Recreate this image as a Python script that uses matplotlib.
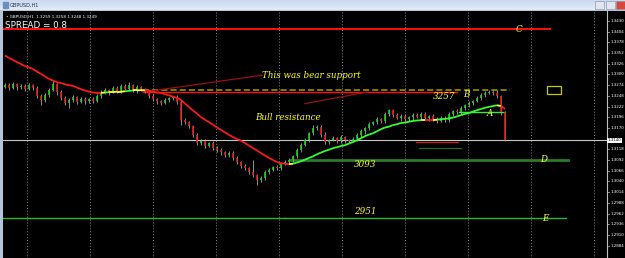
import numpy as np
import matplotlib
matplotlib.use("Agg")
import matplotlib.pyplot as plt
from matplotlib.collections import LineCollection
from matplotlib.patches import Rectangle
import matplotlib.transforms as mtransforms

# ---------------- data ----------------
open0 = 1.3270
closes = [1.3274, 1.3267, 1.3276, 1.3269, 1.3272, 1.3264, 1.3274, 1.3267, 1.3247, 1.3238,
          1.3250, 1.3262, 1.3276, 1.3257, 1.3242, 1.3230, 1.3238, 1.3245, 1.3233, 1.3240,
          1.3235, 1.3240, 1.3235, 1.3247, 1.3257, 1.3262, 1.3257, 1.3267, 1.3259, 1.3272,
          1.3264, 1.3274, 1.3262, 1.3269, 1.3264, 1.3257, 1.3247, 1.3240, 1.3235, 1.3230,
          1.3238, 1.3242, 1.3245, 1.3233, 1.3189, 1.3184, 1.3174, 1.3153, 1.3133, 1.3138,
          1.3126, 1.3133, 1.3121, 1.3116, 1.3111, 1.3104, 1.3109, 1.3097, 1.3087, 1.3077,
          1.3072, 1.3063, 1.3055, 1.3043, 1.3048, 1.3063, 1.3068, 1.3075, 1.3072, 1.3082,
          1.3087, 1.3092, 1.3102, 1.3116, 1.3128, 1.3140, 1.3157, 1.3170, 1.3172, 1.3153,
          1.3136, 1.3140, 1.3145, 1.3138, 1.3148, 1.3140, 1.3138, 1.3143, 1.3153, 1.3162,
          1.3170, 1.3179, 1.3184, 1.3191, 1.3187, 1.3204, 1.3213, 1.3201, 1.3194, 1.3199,
          1.3191, 1.3196, 1.3201, 1.3196, 1.3204, 1.3194, 1.3199, 1.3191, 1.3187, 1.3194,
          1.3189, 1.3204, 1.3211, 1.3208, 1.3218, 1.3225, 1.3230, 1.3235, 1.3242, 1.3250,
          1.3255, 1.3257, 1.3255, 1.3247, 1.3208, 1.3140]
up_wick_pips = [5, 4, 6, 3, 5, 4, 6, 3, 4, 5,
                4, 6, 10, 3, 4, 5, 4, 6, 3, 5,
                4, 3, 5, 6, 4, 5, 3, 6, 4, 5,
                4, 8, 3, 5, 4, 3, 4, 5, 3, 4,
                5, 4, 3, 6, 4, 5, 3, 4, 5, 6,
                4, 3, 5, 4, 6, 3, 4, 5, 4, 3,
                5, 4, 30, 3, 6, 4, 5, 3, 4, 6,
                4, 5, 3, 4, 6, 5, 4, 7, 5, 4,
                6, 3, 5, 4, 6, 3, 4, 5, 4, 6,
                3, 5, 4, 6, 4, 5, 3, 4, 6, 5,
                4, 3, 5, 6, 4, 5, 3, 4, 6, 5,
                4, 5, 3, 4, 6, 4, 5, 4, 6, 5,
                4, 5, 4, 6, 3, 4]
down_wick_pips = [4, 5, 3, 6, 4, 5, 3, 6, 5, 13,
                  4, 5, 3, 6, 4, 5, 12, 4, 5, 3,
                  6, 4, 5, 3, 4, 5, 6, 3, 4, 5,
                  3, 4, 5, 6, 4, 3, 5, 4, 6, 4,
                  3, 5, 4, 4, 12, 5, 4, 6, 5, 4,
                  6, 3, 5, 4, 6, 5, 4, 6, 5, 4,
                  5, 6, 4, 12, 5, 4, 6, 3, 5, 4,
                  3, 5, 4, 6, 4, 3, 5, 4, 6, 5,
                  4, 6, 3, 5, 4, 6, 5, 3, 4, 5,
                  6, 4, 3, 5, 4, 6, 5, 4, 3, 6,
                  5, 4, 6, 3, 5, 4, 6, 5, 4, 3,
                  5, 4, 6, 5, 3, 4, 5, 4, 3, 5,
                  4, 3, 5, 4, 6, 2]
ma_values = [1.3346, 1.3340, 1.3335, 1.3330, 1.3325, 1.3320, 1.3317, 1.3313, 1.3307, 1.3301,
             1.3295, 1.3289, 1.3285, 1.3281, 1.3279, 1.3276, 1.3274, 1.3272, 1.3268, 1.3264,
             1.3261, 1.3258, 1.3256, 1.3255, 1.3255, 1.3256, 1.3257, 1.3257, 1.3258, 1.3258,
             1.3259, 1.3260, 1.3261, 1.3261, 1.3262, 1.3261, 1.3260, 1.3258, 1.3256, 1.3255,
             1.3252, 1.3249, 1.3246, 1.3243, 1.3238, 1.3229, 1.3221, 1.3212, 1.3205, 1.3196,
             1.3190, 1.3184, 1.3178, 1.3171, 1.3165, 1.3159, 1.3153, 1.3148, 1.3143, 1.3139,
             1.3133, 1.3127, 1.3121, 1.3115, 1.3109, 1.3103, 1.3097, 1.3092, 1.3087, 1.3084,
             1.3083, 1.3082, 1.3083, 1.3086, 1.3089, 1.3093, 1.3097, 1.3101, 1.3106, 1.3110,
             1.3114, 1.3117, 1.3121, 1.3123, 1.3126, 1.3128, 1.3132, 1.3136, 1.3140, 1.3145,
             1.3150, 1.3154, 1.3157, 1.3162, 1.3167, 1.3171, 1.3173, 1.3177, 1.3179, 1.3182,
             1.3183, 1.3185, 1.3187, 1.3188, 1.3189, 1.3189, 1.3189, 1.3189, 1.3190, 1.3191,
             1.3192, 1.3193, 1.3195, 1.3198, 1.3201, 1.3204, 1.3206, 1.3210, 1.3213, 1.3216,
             1.3219, 1.3221, 1.3223, 1.3225, 1.3223, 1.3216]

level_C = 1.3410
level_D = 1.3093
level_E = 1.2951
level_bear = 1.3257
level_dash = 1.3263
level_A = 1.3208
current_price = 1.3140
short_red = 1.3136
short_green = 1.3121

axis_labels = ["1.3430", "1.3404", "1.3378", "1.3352", "1.3326", "1.3300", "1.3274",
               "1.3248", "1.3222", "1.3196", "1.3170", "1.3118", "1.3092", "1.3066",
               "1.3040", "1.3014", "1.2988", "1.2962", "1.2936", "1.2910", "1.2884"]

# ---------------- figure ----------------
W, H = 625, 258
fig = plt.figure(figsize=(W / 100, H / 100), dpi=100, facecolor="#b4c4d8")

# title bar
tb = fig.add_axes([0, 248 / H, 1, 10 / H])
grad = np.linspace(0, 1, 50).reshape(-1, 1)
tb.imshow(grad, aspect="auto", cmap=matplotlib.colors.LinearSegmentedColormap.from_list(
    "tb", ["#c9d9ee", "#e3ecf7"]), extent=[0, 1, 0, 1])
tb.set_xlim(0, 1); tb.set_ylim(0, 1); tb.axis("off")
tb.add_patch(Rectangle((0.004, 0.2), 0.008, 0.6, color="#6a8fc0"))
tb.text(0.016, 0.5, "GBPUSD,H1", fontsize=3.6, color="#203050", va="center")
for x0, c in [(0.952, "#dfe6f0"), (0.969, "#dfe6f0"), (0.986, "#d8473a")]:
    tb.add_patch(Rectangle((x0, 0.1), 0.015, 0.8, facecolor=c, edgecolor="#7a8aa0", lw=0.4))

# main chart
ax = fig.add_axes([3 / W, 0, 604 / W, 247 / H], facecolor="black")
ax.set_xlim(0, 151)
ax.set_ylim(1.2854, 1.3454)
for s in ax.spines.values():
    s.set_visible(False)
ax.set_xticks([]); ax.set_yticks([])

# right price strip
axr = fig.add_axes([607 / W, 0, 18 / W, 247 / H], facecolor="black")
axr.set_xlim(0, 1); axr.set_ylim(1.2854, 1.3454)
axr.set_xticks([]); axr.set_yticks([])
for k, s in axr.spines.items():
    s.set_visible(k == "left")
axr.spines["left"].set_color("#c0c0c0")
axr.spines["left"].set_linewidth(0.8)
for lab in axis_labels:
    v = float(lab)
    axr.plot([0, 0.12], [v, v], color="#c0c0c0", lw=0.5)
    axr.text(0.18, v, lab, fontsize=2.9, color="white", va="center", ha="left")
axr.text(0.05, current_price, "1.3140", fontsize=2.9, color="black", va="center", ha="left",
         bbox=dict(boxstyle="square,pad=0.15", fc="white", ec="none"))

# vertical dotted grid
for gx in [6, 21.75, 37.5, 53.25, 69, 84.75, 100.5, 116.25, 132, 147.75]:
    ax.axvline(gx, color="#8a8a8a", lw=0.7, ls=(0, (1, 2)))

n = len(closes)
x = np.arange(n) + 0.5
closes_a = np.array(closes)
opens_a = np.concatenate([[open0], closes_a[:-1]])
highs = np.maximum(opens_a, closes_a) + np.array(up_wick_pips) / 10000
lows = np.minimum(opens_a, closes_a) - np.array(down_wick_pips) / 10000

# horizontal levels
ax.plot([0, 136.75], [level_C, level_C], color="#ff1010", lw=1.4)
ax.axhline(current_price, color="#c8c8c8", lw=0.8)
ax.plot([71.75, 141.25], [level_D, level_D], color="#2a7a2a", lw=2.0)
ax.plot([0, 70.5], [level_E + 0.00012, level_E + 0.00012], color="#2db82d", lw=1.0)
ax.plot([70.5, 140.75], [level_E, level_E], color="#2db82d", lw=1.0)
ax.plot([35, 126.75], [level_dash, level_dash], color="#a0a000", lw=1.1, ls=(0, (4, 2)))
ax.plot([35, 113.5], [level_bear, level_bear], color="#ff1010", lw=1.0)
ax.plot([114, 125.5], [level_A, level_A], color="#33ee33", lw=1.0)
ax.plot([103.25, 113.75], [short_red, short_red], color="#cc2020", lw=0.9)
ax.plot([104, 114.5], [short_green, short_green], color="#1f6a1f", lw=0.9)

# trend lines
ax.plot([35, 64.75], [1.3257, 1.3298], color="#9a1010", lw=0.9)
ax.plot([75.5, 91], [1.3229, 1.3257], color="#9a1010", lw=0.9)

# candles
ax.vlines(x, lows, highs, colors="#a8a8a8", lw=0.6, zorder=3)
cols = np.where(closes_a >= opens_a, "#1fcf1f", "#e02020")
ax.vlines(x, np.minimum(opens_a, closes_a), np.maximum(opens_a, closes_a), colors=cols,
          lw=1.2, zorder=4)

# moving average coloured by slope
ma = np.array(ma_values)
pts = np.column_stack([x, ma]).reshape(-1, 1, 2)
segs = np.concatenate([pts[:-1], pts[1:]], axis=1)
slope = np.diff(ma)
seg_cols = []
for i, d in enumerate(slope):
    c = "#33ff33" if d > 0 else "#ff1a1a"
    if i > 0 and (slope[i] > 0) != (slope[i - 1] > 0):
        c = "#ffff33"
    seg_cols.append(c)
ax.add_collection(LineCollection(segs, colors=seg_cols, lw=1.3, zorder=5))

# rectangle
ax.add_patch(Rectangle((136, 1.3252), 3.5, 0.0020, fill=False, ec="#c8c800", lw=0.9))

# annotations
tfont = dict(color="#ffff33", fontsize=6.3, family="DejaVu Serif", style="italic")
ax.text(64.75, 1.3297, "This was bear support", va="center", **tfont)
ax.text(63, 1.3196, "Bull resistance", va="center", **tfont)
ax.text(107.5, 1.3247, "3257", va="center", **tfont)
ax.text(115, 1.3252, "B", va="center", **tfont)
ax.text(121, 1.3206, "A", va="center", **tfont)
ax.text(128.25, level_C, "C", va="center", **tfont)
ax.text(134.25, level_D, "D", va="center", **tfont)
ax.text(134.75, level_E, "E", va="center", **tfont)
ax.text(87.75, 1.3080, "3093", va="center", **tfont)
ax.text(87.75, 1.2968, "2951", va="center", **tfont)

# header texts
ax.text(0.005, 0.975, "\u2022 GBPUSD,H1  1.3259 1.3258 1.3248 1.3249", transform=ax.transAxes,
        fontsize=3.0, color="white", va="center")
ax.text(0.003, 0.94, "SPREAD = 0.8", transform=ax.transAxes, fontsize=6.3, color="white",
        va="center")

fig.savefig("out.png", dpi=100, facecolor=fig.get_facecolor())
